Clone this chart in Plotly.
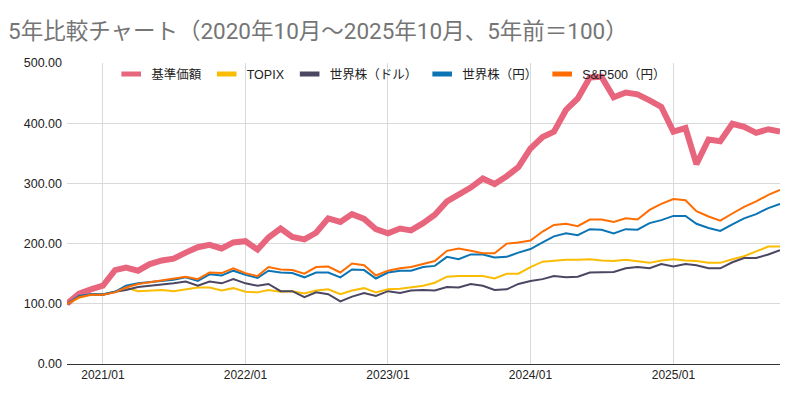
import pandas as pd
import plotly.graph_objects as go

months = pd.date_range("2020-10-01", "2025-10-01", freq="MS")

series_names = ["基準価額", "TOPIX", "世界株（ドル）", "世界株（円）", "S&P500（円）"]

kijun = [100, 117, 124, 130, 156, 160, 155, 166, 172, 175, 185, 194, 198, 192, 202, 204,
         190, 210, 225, 211, 207, 218, 242, 236, 249, 241, 224, 217, 225, 222, 234, 248,
         270, 280, 293, 308, 299, 312, 327, 358, 377, 386, 422, 441, 476, 477, 443, 451,
         448, 438, 427, 386, 392, 332, 373, 370, 399, 394, 384, 390, 386]

topix = [100, 110, 115, 115, 120, 127, 121, 122, 123, 121, 124, 127, 127, 122, 126, 120,
         119, 123, 120, 121, 117, 122, 124, 116, 122, 126, 119, 124, 125, 127, 130, 135,
         145, 146, 146, 146, 142, 150, 150, 161, 170, 172, 173, 173, 174, 172, 171, 173,
         171, 168, 172, 174, 172, 171, 168, 168, 174, 179, 187, 195, 195]

world_usd = [100, 112, 116, 115, 120, 123, 128, 130, 131, 134, 137, 130, 137, 134, 141, 134,
             130, 133, 121, 121, 111, 119, 116, 104, 112, 118, 113, 121, 118, 122, 123, 122,
             128, 127, 133, 130, 123, 124, 133, 138, 141, 146, 144, 145, 152, 153, 153, 159,
             161, 159, 166, 162, 166, 164, 159, 159, 169, 176, 176, 182, 189]

world_jpy = [100, 113, 116, 116, 120, 130, 134, 136, 139, 140, 144, 138, 149, 147, 155, 148,
             143, 155, 152, 151, 144, 152, 152, 144, 157, 156, 142, 152, 155, 155, 161, 163,
             178, 174, 182, 182, 177, 178, 185, 191, 202, 212, 217, 214, 224, 223, 217, 224,
             223, 234, 239, 246, 246, 233, 226, 221, 232, 242, 249, 259, 266]

sp500_jpy = [100, 111, 115, 115, 119, 127, 133, 136, 139, 141, 145, 141, 152, 151, 159, 151,
             146, 161, 157, 156, 150, 161, 162, 152, 167, 164, 147, 155, 159, 161, 166, 171,
             188, 192, 188, 184, 184, 200, 202, 205, 220, 231, 233, 229, 240, 240, 236, 242,
             240, 256, 266, 274, 272, 254, 245, 238, 250, 261, 270, 281, 289]

y_ticks = [0, 100, 200, 300, 400, 500]
x_tick_dates = ["2021-01-01", "2022-01-01", "2023-01-01", "2024-01-01", "2025-01-01"]
x_tick_labels = ["2021/01", "2022/01", "2023/01", "2024/01", "2025/01"]

all_values = [kijun, topix, world_usd, world_jpy, sp500_jpy]
colors = ["#E8667D", "#FBBC04", "#4B4661", "#0B74B4", "#FF6D01"]
widths = [6, 2, 2, 2, 2]

font_family = "Arial, Liberation Sans, Noto Sans CJK JP, sans-serif"

fig = go.Figure()
for name, vals, c, w in zip(series_names, all_values, colors, widths):
    fig.add_trace(go.Scatter(x=months, y=vals, mode="lines", name=name,
                             line=dict(color=c, width=w), showlegend=False))
# legend entries: short thick marks as in the reference legend
for name, c in zip(series_names, colors):
    fig.add_trace(go.Scatter(x=[None], y=[None], mode="markers", name=name,
                             marker=dict(symbol="line-ew", size=14, color=c,
                                         line=dict(width=6, color=c)),
                             showlegend=True))

# The page adds an 8px body margin, so margins are offset by 8px
fig.update_layout(
    width=800, height=405,
    margin=dict(l=59, r=28, t=55, b=49),
    paper_bgcolor="white", plot_bgcolor="white",
    font=dict(family=font_family, size=12, color="#222222"),
    title=dict(text="5年比較チャート（2020年10月～2025年10月、5年前＝100）",
               x=0.0, xanchor="left", y=0.942, yanchor="middle",
               font=dict(family="Roboto, Noto Sans CJK JP, sans-serif", size=22.5, color="#757575")),
    legend=dict(orientation="h", x=0.062, xanchor="left", y=1.012, yanchor="top",
                bgcolor="rgba(255,255,255,0)", font=dict(size=12.5, color="#222222"),
                itemwidth=30, tracegroupgap=0),
    showlegend=True,
)

fig.update_xaxes(
    type="date",
    range=[months[0], months[-1]],
    tickvals=x_tick_dates, ticktext=x_tick_labels,
    showgrid=True, gridcolor="#D9D9D9", gridwidth=1,
    showline=True, linecolor="#333333", linewidth=1,
    ticks="", tickfont=dict(size=12, color="#222222"),
    zeroline=False,
)
fig.update_yaxes(
    range=[0, 500],
    tickvals=y_ticks, tickformat=".2f",
    showgrid=True, gridcolor="#D9D9D9", gridwidth=1,
    zeroline=False, showline=False, ticks="",
    ticklabelstandoff=4,
    tickfont=dict(size=12.5, color="#222222"),
)

fig.write_html("out.html")
